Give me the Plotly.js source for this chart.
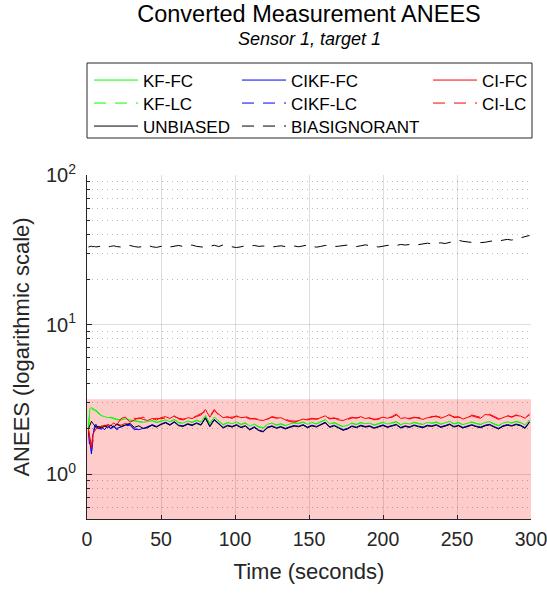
<!DOCTYPE html>
<html><head><meta charset="utf-8">
<script src="https://cdn.plot.ly/plotly-3.0.1.min.js"></script>
<style>html,body{margin:0;padding:0;background:#fff}#chart{width:547px;height:600px}</style>
</head><body><div id="chart"></div>
<script>
const time = [1,2,3,4,5,6,8,10,12,14,16,18,20,23,26,29,32,35,38,41,44,47,50,53,56,59,62,65,68,71,74,77,80,83,86,89,92,95,98,101,104,107,110,113,116,119,122,125,128,131,134,137,140,143,146,149,152,155,158,161,164,167,170,173,176,179,182,185,188,191,194,197,200,203,206,209,212,215,218,221,224,227,230,233,236,239,242,245,248,251,254,257,260,263,266,269,272,275,278,281,284,287,290,293,296,299];

const kfFC = [2.05,2.75,2.78,2.72,2.70,2.68,2.55,2.45,2.42,2.38,2.40,2.36,2.33,
2.30,2.34,2.30,2.28,2.26,2.22,2.24,2.28,2.22,2.27,
2.30,2.24,2.32,2.21,2.19,2.26,2.22,2.29,2.23,2.46,
2.18,2.40,2.26,2.14,2.21,2.17,2.23,2.15,2.20,2.09,
2.16,2.07,2.04,2.15,2.19,2.13,2.17,2.11,2.16,2.20,
2.18,2.23,2.15,2.21,2.17,2.25,2.31,2.16,2.21,2.14,
2.08,2.12,2.19,2.15,2.21,2.17,2.19,2.13,2.18,2.22,
2.16,2.20,2.24,2.14,2.19,2.16,2.22,2.18,2.15,2.21,
2.19,2.23,2.16,2.20,2.25,2.17,2.21,2.14,2.19,2.23,
2.18,2.15,2.21,2.24,2.17,2.11,2.19,2.23,2.20,2.25,
2.21,2.13,2.30];

const kfLC = [2.02,2.70,2.74,2.68,2.66,2.63,2.52,2.43,2.40,2.36,2.38,2.34,2.31,
2.29,2.32,2.29,2.27,2.25,2.21,2.23,2.27,2.21,2.26,
2.29,2.23,2.31,2.20,2.18,2.25,2.21,2.28,2.22,2.45,
2.17,2.39,2.25,2.13,2.20,2.16,2.22,2.14,2.19,2.08,
2.15,2.06,2.03,2.14,2.18,2.12,2.16,2.10,2.15,2.19,
2.17,2.22,2.14,2.20,2.16,2.24,2.30,2.15,2.20,2.13,
2.07,2.11,2.18,2.14,2.20,2.16,2.18,2.12,2.17,2.21,
2.15,2.19,2.23,2.13,2.18,2.15,2.21,2.17,2.14,2.20,
2.18,2.22,2.15,2.19,2.24,2.16,2.20,2.13,2.18,2.22,
2.17,2.14,2.20,2.23,2.16,2.10,2.18,2.22,2.19,2.24,
2.20,2.12,2.29];

const cikfFC = [1.95,1.60,1.36,1.80,2.05,2.15,2.00,2.05,1.98,2.12,2.00,2.08,2.02,
2.06,2.12,2.15,2.00,1.98,2.02,2.06,2.14,2.08,2.16,
2.22,2.14,2.24,2.12,2.10,2.17,2.13,2.20,2.14,2.36,
2.09,2.32,2.17,2.05,2.12,2.08,2.14,2.06,2.11,1.99,
2.07,1.97,1.93,2.06,2.10,2.04,2.08,2.02,2.07,2.11,
2.09,2.14,2.06,2.12,2.08,2.16,2.22,2.07,2.12,2.05,
1.98,2.02,2.10,2.06,2.12,2.08,2.10,2.04,2.09,2.13,
2.07,2.11,2.15,2.05,2.10,2.07,2.13,2.09,2.06,2.12,
2.10,2.14,2.07,2.11,2.16,2.08,2.12,2.05,2.10,2.14,
2.09,2.06,2.12,2.15,2.08,2.02,2.10,2.14,2.11,2.16,
2.12,2.04,2.24];

const cikfLC = [1.90,1.45,1.40,1.75,2.00,2.10,2.04,1.98,2.06,2.08,2.03,2.10,1.98,
2.04,2.10,2.12,1.98,2.02,1.99,2.08,2.12,2.06,2.14,
2.21,2.13,2.23,2.11,2.09,2.16,2.12,2.19,2.13,2.37,
2.08,2.31,2.16,2.04,2.11,2.07,2.13,2.05,2.10,1.98,
2.06,1.96,1.92,2.05,2.09,2.03,2.07,2.01,2.06,2.10,
2.08,2.13,2.05,2.11,2.07,2.15,2.21,2.06,2.11,2.04,
1.97,2.01,2.09,2.05,2.11,2.07,2.09,2.03,2.08,2.12,
2.06,2.10,2.14,2.04,2.09,2.06,2.12,2.08,2.05,2.11,
2.09,2.13,2.06,2.10,2.15,2.07,2.11,2.04,2.09,2.13,
2.08,2.05,2.11,2.14,2.07,2.01,2.09,2.13,2.10,2.15,
2.11,2.03,2.23];

const ciFC = [2.00,1.70,1.50,1.85,1.95,2.00,2.05,2.10,2.08,2.15,2.10,2.20,2.12,
2.35,2.40,2.22,2.30,2.38,2.32,2.28,2.35,2.30,2.38,
2.42,2.35,2.45,2.33,2.30,2.38,2.35,2.42,2.48,2.70,
2.40,2.65,2.50,2.38,2.42,2.35,2.45,2.38,2.40,2.33,
2.36,2.30,2.28,2.35,2.40,2.36,2.38,2.30,2.24,2.22,
2.28,2.33,2.30,2.36,2.32,2.38,2.45,2.33,2.38,2.30,
2.28,2.34,2.40,2.36,2.42,2.35,2.38,2.30,2.35,2.40,
2.36,2.42,2.52,2.35,2.38,2.33,2.40,2.36,2.32,2.38,
2.40,2.45,2.36,2.42,2.50,2.38,2.42,2.33,2.38,2.45,
2.40,2.36,2.50,2.48,2.40,2.32,2.38,2.44,2.42,2.46,
2.44,2.36,2.52];

const ciLC = [1.95,1.60,1.45,1.80,1.92,1.98,2.04,2.08,2.12,2.10,2.14,2.10,2.16,
2.12,2.18,2.14,2.36,2.34,2.40,2.30,2.32,2.36,2.34,
2.38,2.40,2.42,2.36,2.33,2.35,2.38,2.45,2.52,2.62,
2.44,2.70,2.46,2.40,2.38,2.40,2.42,2.35,2.43,2.36,
2.33,2.33,2.30,2.32,2.42,2.38,2.35,2.33,2.27,2.25,
2.25,2.30,2.33,2.33,2.35,2.35,2.42,2.36,2.35,2.33,
2.31,2.31,2.37,2.39,2.39,2.38,2.35,2.33,2.32,2.43,
2.39,2.39,2.48,2.38,2.35,2.36,2.37,2.39,2.35,2.35,
2.43,2.42,2.39,2.39,2.47,2.41,2.39,2.36,2.35,2.48,
2.43,2.39,2.47,2.51,2.43,2.35,2.35,2.47,2.39,2.49,
2.41,2.39,2.48];

const unbiased = [2.00,2.15,2.25,2.18,2.10,2.05,2.08,2.02,2.10,2.04,2.12,2.06,2.15,
2.08,2.13,2.18,2.05,2.10,2.02,2.04,2.12,2.06,2.14,
2.20,2.12,2.22,2.10,2.08,2.15,2.11,2.18,2.12,2.38,
2.07,2.30,2.15,2.03,2.10,2.06,2.12,2.04,2.09,1.97,
2.05,1.95,1.91,2.04,2.08,2.02,2.06,2.00,2.05,2.09,
2.07,2.12,2.04,2.10,2.06,2.14,2.20,2.05,2.10,2.03,
1.96,2.00,2.08,2.04,2.10,2.06,2.08,2.02,2.07,2.11,
2.05,2.09,2.13,2.03,2.08,2.05,2.11,2.07,2.04,2.10,
2.08,2.12,2.05,2.09,2.14,2.06,2.10,2.03,2.08,2.12,
2.07,2.04,2.10,2.13,2.06,2.00,2.08,2.12,2.09,2.14,
2.10,2.02,2.22];

const biasIgnorant = [33.0,33.2,33.4,33.1,33.3,33.0,33.2,33.5,33.1,32.9,33.3,33.6,33.2,
33.0,33.5,33.8,33.2,32.9,33.4,33.9,33.1,32.8,33.3,
33.6,33.0,33.4,33.8,33.2,33.5,34.0,33.3,33.0,32.8,
33.4,33.9,33.2,34.1,33.5,33.0,32.7,33.1,33.6,33.4,
33.8,33.3,33.5,33.2,33.0,33.3,33.6,33.2,33.4,33.5,
33.1,33.6,34.0,33.4,32.9,33.3,33.8,33.6,33.2,33.4,
33.7,34.0,33.5,33.2,33.6,34.1,33.7,33.3,33.0,33.4,
33.9,34.2,33.8,34.3,34.0,34.4,34.6,34.2,34.5,35.0,
34.6,34.9,35.2,34.8,35.5,36.3,36.6,36.0,35.6,35.4,
35.8,35.3,35.5,36.0,36.4,36.2,36.8,37.1,36.7,37.4,
38.0,38.6,39.4];

// confidence region (ANEES bounds)
const bandX = [0,300,300,0];
const bandY = [3.16,3.16,0.4,0.4];

const seriesNames = ['KF-FC','KF-LC','CIKF-FC','CIKF-LC','CI-FC','CI-LC','UNBIASED','BIASIGNORANT'];
const xTickVals = [0,50,100,150,200,250,300];
const yTickVals = [1,10,100];
const yTickText = ['10<sup>0</sup>','10<sup>1</sup>','10<sup>2</sup>'];
const yMinorVals = [0.5,0.6,0.7,0.8,0.9,2,3,4,5,6,7,8,9,20,30,40,50,60,70,80,90];

const FONT = 'Liberation Sans, Arial, Helvetica, sans-serif';
const DASH = '12px,9px';

function line(y, name, color, dash, legend) {
  return {x: time, y: y, name: name, type: 'scatter', mode: 'lines',
    line: {color: color, width: 1, dash: dash}, legend: legend};
}

const traces = [
  {x: bandX, y: bandY, type: 'scatter', mode: 'none', fill: 'toself',
   fillcolor: 'rgba(255,0,0,0.2)', showlegend: false, hoverinfo: 'skip'},
  line(kfFC, seriesNames[0], '#00ff00', 'solid', 'legend'),
  line(kfLC, seriesNames[1], '#00ff00', DASH, 'legend2'),
  line(cikfFC, seriesNames[2], '#0000ff', 'solid', 'legend3'),
  line(cikfLC, seriesNames[3], '#0000ff', DASH, 'legend4'),
  line(ciFC, seriesNames[4], '#ff0000', 'solid', 'legend5'),
  line(ciLC, seriesNames[5], '#ff0000', DASH, 'legend6'),
  line(unbiased, seriesNames[6], '#000000', 'solid', 'legend7'),
  line(biasIgnorant, seriesNames[7], '#000000', DASH, 'legend8')
];

const L = 87, R = 16, T = 175, B = 81, W = 547, H = 600;
const pw = W - L - R, ph = H - T - B;
const px = v => (v - L) / pw;
const py = v => (H - B - v) / ph;

function leg(xPix, rowCenter) {
  return {
    orientation: 'v', yanchor: 'top', xanchor: 'left', x: px(xPix), y: py(rowCenter - 16.5),
    bgcolor: 'rgba(0,0,0,0)', borderwidth: 0, itemwidth: 44, traceorder: 'normal',
    font: {family: FONT, size: 17, color: '#000'}
  };
}
const col1 = 89, col2 = 237, col3 = 428;
const row1 = 79, row2 = 102, row3 = 125;

const layout = {
  width: W, height: H,
  margin: {l: L, r: R, t: T, b: B, pad: 0},
  paper_bgcolor: '#fff', plot_bgcolor: '#fff',
  font: {family: FONT, color: '#262626'},
  title: {text: 'Converted Measurement ANEES', x: px(309), xref: 'paper', xanchor: 'center',
          y: 1 - 14/600, yref: 'container', yanchor: 'middle',
          font: {family: FONT, size: 23.5, color: '#000'}},
  annotations: [{text: 'Sensor 1, target 1', xref: 'paper', yref: 'paper', x: 0.5, y: py(39),
    xanchor: 'center', yanchor: 'middle', showarrow: false,
    font: {family: FONT, size: 18, style: 'italic', color: '#000'}}],
  showlegend: true,
  legend: leg(col1, row1),
  legend2: leg(col1, row2),
  legend7: leg(col1, row3),
  legend3: leg(col2, row1),
  legend4: leg(col2, row2),
  legend8: leg(col2, row3),
  legend5: leg(col3, row1),
  legend6: leg(col3, row2),
  shapes: [{type: 'rect', xref: 'paper', yref: 'paper', x0: px(87), x1: px(532), y0: py(138), y1: py(63),
    line: {color: '#262626', width: 1}, fillcolor: 'rgba(0,0,0,0)', layer: 'above'}],
  xaxis: {
    range: [0, 300], tickmode: 'array', tickvals: xTickVals, ticklabeloverflow: 'allow',
    ticks: 'inside', ticklen: 4, tickcolor: '#262626', ticklabelstandoff: 3,
    showline: true, linecolor: '#262626', linewidth: 1, mirror: false, zeroline: false,
    showgrid: true, gridcolor: 'rgba(0,0,0,0.13)', gridwidth: 1,
    tickfont: {family: FONT, size: 19.5, color: '#262626'},
    title: {text: 'Time (seconds)', font: {family: FONT, size: 22, color: '#262626'}, standoff: 14}
  },
  yaxis: {
    type: 'log', range: [Math.log10(0.5), 2], tickmode: 'array', tickvals: yTickVals, ticktext: yTickText,
    ticks: 'inside', ticklen: 5, tickcolor: '#262626', ticklabelstandoff: 6,
    showline: true, linecolor: '#262626', linewidth: 1, mirror: false, zeroline: false,
    showgrid: true, gridcolor: 'rgba(0,0,0,0.13)', gridwidth: 1,
    minor: {tickmode: 'array', tickvals: yMinorVals, ticks: 'inside', ticklen: 3, tickcolor: '#262626',
            showgrid: true, gridcolor: 'rgba(0,0,0,0.28)', griddash: '1px,4px', gridwidth: 1},
    tickfont: {family: FONT, size: 20, color: '#262626'},
    title: {text: 'ANEES (logarithmic scale)', font: {family: FONT, size: 22, color: '#262626'}, standoff: 10}
  }
};

Plotly.newPlot('chart', traces, layout, {staticPlot: true, displayModeBar: false});
</script></body></html>
